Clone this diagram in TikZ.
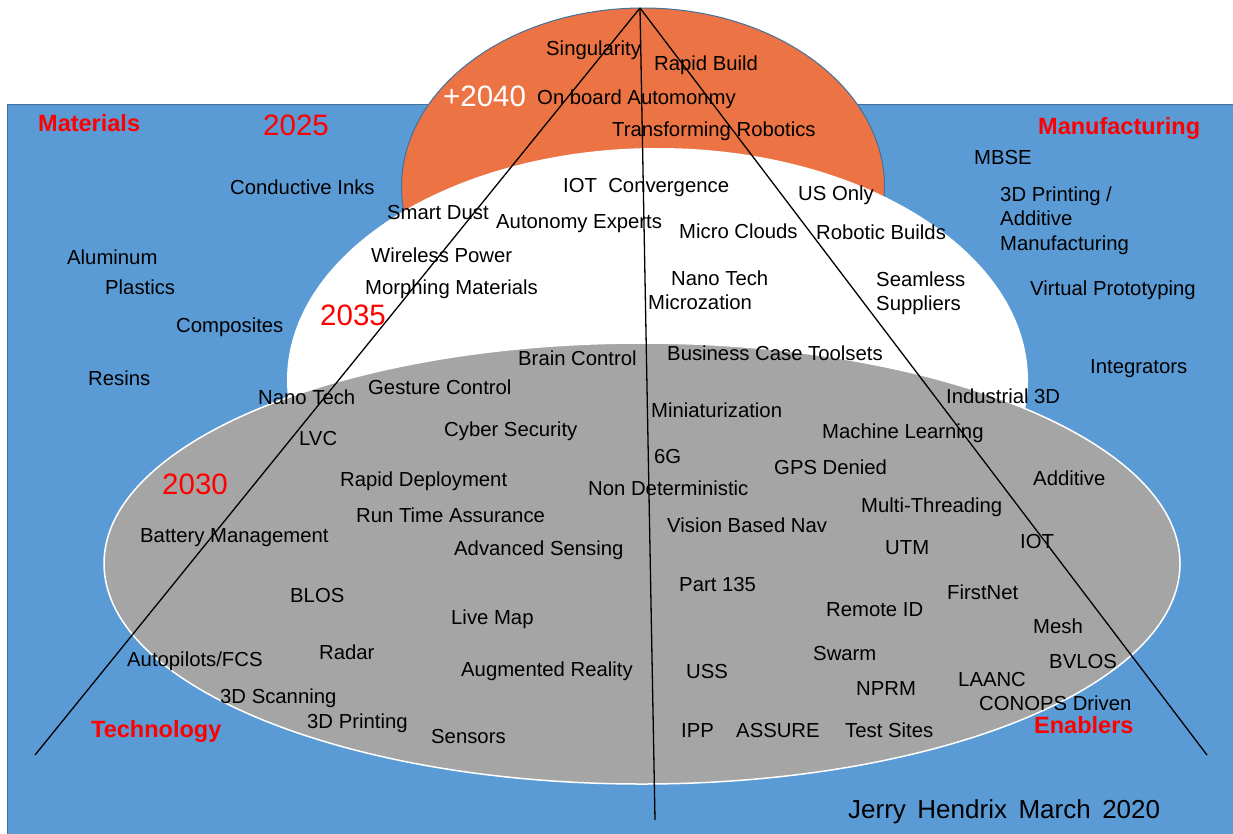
\documentclass[tikz,border=0pt]{standalone}
\usepackage{fontspec}
\setmainfont{Liberation Sans}
\definecolor{bgblue}{HTML}{5B9BD5}
\definecolor{edgeblue}{HTML}{41719C}
\definecolor{domeorange}{HTML}{EC7444}
\definecolor{coregray}{HTML}{A5A5A5}
\tikzset{
  lbl/.style={anchor=base west, inner sep=0pt, text=black, font=\fontsize{20.3}{24}\selectfont},
  cat/.style={anchor=base west, inner sep=0pt, text=red, font=\fontsize{23.5}{28}\selectfont\bfseries},
  yr/.style={anchor=base west, inner sep=0pt, text=red, font=\fontsize{29.5}{34}\selectfont},
  ray/.style={draw=black, line width=1.3pt},
}
\begin{document}
\begin{tikzpicture}[x=1pt, y=-1pt]
\useasboundingbox (0,0) rectangle (1233,833);
% background panel
\fill[white] (0,0) rectangle (1233,833);
\filldraw[fill=bgblue, draw=edgeblue, line width=1pt] (7,104) rectangle (1245,845);
% nested horizons
\filldraw[fill=domeorange, draw=edgeblue, line width=1pt] (643,187) ellipse [x radius=241.5pt, y radius=179pt];
\fill[white] (657.5,380) ellipse [x radius=370.5pt, y radius=232pt];
\filldraw[fill=coregray, draw=white, line width=1.5pt] (642,563.5) ellipse [x radius=538pt, y radius=220.5pt];
% rays from the apex
\coordinate (apex) at (640,8);
\coordinate (endL) at (35,755);
\coordinate (endM) at (655,820);
\coordinate (endR) at (1207,755);
\draw[ray] (apex) -- (endL);
\draw[ray] (apex) -- (endM);
\draw[ray] (apex) -- (endR);
% category headings
\node[cat] (hMat) at (38,131.5) {Materials};
\node[cat] (hMfg) at (1038,134.5) {Manufacturing};
\node[cat] (hTec) at (91,737.5) {Technology};
\node[cat] (hEna) at (1034,733.5) {Enablers};
% horizon years
\node[yr] (y2025) at (263,135.5) {2025};
\node[yr] (y2035) at (320,325.5) {2035};
\node[yr] (y2030) at (162,494.5) {2030};
\node[yr, text=white] (y2040) at (443,106.5) {+2040};
% +2040
\node[lbl] (t01) at (546,55) {Singularity};
\node[lbl] (t02) at (654,70) {Rapid Build};
\node[lbl] (t03) at (537,104) {On board Automonmy};
\node[lbl] (t04) at (612,136) {Transforming Robotics};
% 2035
\node[lbl] (t05) at (563,192) {IOT\ \ Convergence};
\node[lbl] (t06) at (798,200) {US Only};
\node[lbl] (t07) at (387,219) {Smart Dust};
\node[lbl] (t08) at (496,228) {Autonomy Experts};
\node[lbl] (t09) at (679,238) {Micro Clouds};
\node[lbl] (t10) at (816,239) {Robotic Builds};
\node[lbl] (t11) at (371,262) {Wireless Power};
\node[lbl] (t12) at (671,285) {Nano Tech};
\node[lbl] (t13) at (876,286) {Seamless};
\node[lbl] (t14) at (876,310) {Suppliers};
\node[lbl] (t15) at (648,309) {Microzation};
\node[lbl] (t16) at (365,294) {Morphing Materials};
\node[lbl] (t17) at (518,365) {Brain Control};
\node[lbl] (t18) at (667,360) {Business Case Toolsets};
% 2025 materials
\node[lbl] (t19) at (230,194) {Conductive Inks};
\node[lbl] (t20) at (67,264) {Aluminum};
\node[lbl] (t21) at (105,294) {Plastics};
\node[lbl] (t22) at (176,332) {Composites};
\node[lbl] (t23) at (88,385) {Resins};
% 2025 manufacturing
\node[lbl] (t24) at (974,164) {MBSE};
\node[lbl] (t25) at (1000,201) {3D Printing /};
\node[lbl] (t26) at (1000,225.5) {Additive};
\node[lbl] (t27) at (1000,250) {Manufacturing};
\node[lbl] (t28) at (1030,295) {Virtual Prototyping};
\node[lbl] (t29) at (1090,373) {Integrators};
% 2030 technology
\node[lbl] (t30) at (258,404) {Nano Tech};
\node[lbl] (t31) at (368,394) {Gesture Control};
\node[lbl] (t32) at (299,445) {LVC};
\node[lbl] (t33) at (444,436) {Cyber Security};
\node[lbl] (t34) at (340,486) {Rapid Deployment};
\node[lbl] (t35) at (356,522) {Run Time Assurance};
\node[lbl] (t36) at (140,542) {Battery Management};
\node[lbl] (t37) at (454,555) {Advanced Sensing};
\node[lbl] (t38) at (290,602) {BLOS};
\node[lbl] (t39) at (451,624) {Live Map};
\node[lbl] (t40) at (127,666) {Autopilots/FCS};
\node[lbl] (t41) at (319,659) {Radar};
\node[lbl] (t42) at (461,676) {Augmented Reality};
\node[lbl] (t43) at (220,703) {3D Scanning};
\node[lbl] (t44) at (307,728) {3D Printing};
\node[lbl] (t45) at (431,743) {Sensors};
% 2030 enablers
\node[lbl] (t46) at (946,403) {Industrial 3D};
\node[lbl] (t47) at (651,417) {Miniaturization};
\node[lbl] (t48) at (822,438) {Machine Learning};
\node[lbl] (t49) at (654,463) {6G};
\node[lbl] (t50) at (774,474) {GPS Denied};
\node[lbl] (t51) at (1033,485) {Additive};
\node[lbl] (t52) at (588,495) {Non Deterministic};
\node[lbl] (t53) at (861,512) {Multi-Threading};
\node[lbl] (t54) at (667,532) {Vision Based Nav};
\node[lbl] (t55) at (885,554) {UTM};
\node[lbl] (t56) at (1020,548) {IOT};
\node[lbl] (t57) at (679,591) {Part 135};
\node[lbl] (t58) at (947,599) {FirstNet};
\node[lbl] (t59) at (826,616) {Remote ID};
\node[lbl] (t60) at (1033,633) {Mesh};
\node[lbl] (t61) at (813,660) {Swarm};
\node[lbl] (t62) at (1049,668) {BVLOS};
\node[lbl] (t63) at (686,678) {USS};
\node[lbl] (t64) at (856,695) {NPRM};
\node[lbl] (t65) at (958,686) {LAANC};
\node[lbl] (t66) at (979,710) {CONOPS Driven};
\node[lbl] (t67) at (681,737) {IPP};
\node[lbl] (t68) at (736,737) {ASSURE};
\node[lbl] (t69) at (845,737) {Test Sites};
% author line
\node[lbl, font=\fontsize{26}{30}\selectfont] (sig) at (848,818) {Jerry\hspace{11.5pt}Hendrix\hspace{11.5pt}March\hspace{11.5pt}2020};
\end{tikzpicture}
\end{document}
